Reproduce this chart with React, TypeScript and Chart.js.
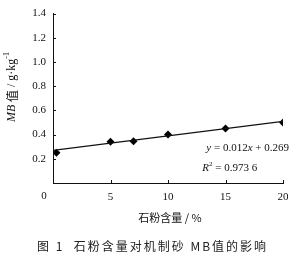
import React, { useEffect, useRef } from "react";
import { Chart, registerables } from "chart.js";

Chart.register(...registerables);

const stoneContent = [0.3, 5, 7, 10, 15, 20];
const mbValues = [0.25, 0.34, 0.345, 0.4, 0.45, 0.5];
const fitSlope = 0.012;
const fitIntercept = 0.269;
const fitRange = [0, 20];
const yTicks = [0.2, 0.4, 0.6, 0.8, 1.0, 1.2, 1.4];
const xTicks = [0, 5, 10, 15, 20];

const SERIF = '"Liberation Serif", "DejaVu Serif", serif';
const CJK = '"Noto Sans CJK SC", sans-serif';

const decorPlugin = {
  id: "decor",
  afterDraw(chart: any) {
    const ctx = chart.ctx as CanvasRenderingContext2D;
    const xs = chart.scales.x;
    const ys = chart.scales.y;
    const area = chart.chartArea;
    ctx.save();
    ctx.strokeStyle = "#111";
    ctx.lineWidth = 1;
    // inward tick marks
    ctx.beginPath();
    yTicks.forEach((v) => {
      const py = Math.round(ys.getPixelForValue(v)) + 0.5;
      ctx.moveTo(area.left, py);
      ctx.lineTo(area.left + 3, py);
    });
    xTicks.slice(1).forEach((v) => {
      const px = Math.round(xs.getPixelForValue(v)) + 0.5;
      ctx.moveTo(px, area.bottom);
      ctx.lineTo(px, area.bottom - 3);
    });
    ctx.stroke();

    ctx.fillStyle = "#111";
    ctx.textBaseline = "middle";

    // origin label, offset left as in the reference
    ctx.font = "11px " + SERIF;
    ctx.textAlign = "center";
    ctx.fillText(String(xTicks[0]), xs.getPixelForValue(xTicks[0]) - 9, area.bottom + 13);

    // y axis title (rotated)
    ctx.save();
    ctx.translate(12, 87);
    ctx.rotate(-Math.PI / 2);
    const segs: [string, string, number][] = [
      ["MB", "italic 12px " + SERIF, 0],
      [" 值", "12px " + CJK, 0],
      [" / g·kg", "12px " + SERIF, 0],
      ["-1", "8px " + SERIF, -5],
    ];
    let total = 0;
    segs.forEach(([t, f]) => {
      ctx.font = f;
      total += ctx.measureText(t).width;
    });
    let cx = -total / 2;
    ctx.textAlign = "left";
    segs.forEach(([t, f, dy]) => {
      ctx.font = f;
      ctx.fillText(t, cx, dy);
      cx += ctx.measureText(t).width;
    });
    ctx.restore();

    // x axis title
    ctx.textAlign = "center";
    ctx.font = "11px " + CJK;
    const midX = (area.left + area.right) / 2 + 2;
    ctx.fillText("石粉含量 / %", midX, area.bottom + 35);

    // equation
    const eqRight = xs.getPixelForValue(20) + 6;
    const eqY = ys.getPixelForValue(0.29);
    const eqSegs: [string, string][] = [
      ["y", "italic 11px " + SERIF],
      [" = 0.012", "11px " + SERIF],
      ["x", "italic 11px " + SERIF],
      [" + 0.269", "11px " + SERIF],
    ];
    let w = 0;
    eqSegs.forEach(([t, f]) => {
      ctx.font = f;
      w += ctx.measureText(t).width;
    });
    let ex = eqRight - w;
    ctx.textAlign = "left";
    eqSegs.forEach(([t, f]) => {
      ctx.font = f;
      ctx.fillText(t, ex, eqY);
      ex += ctx.measureText(t).width;
    });
    // R^2
    const rY = ys.getPixelForValue(0.125);
    let rx = eqRight - w - 4;
    ctx.font = "italic 11px " + SERIF;
    ctx.fillText("R", rx, rY);
    rx += ctx.measureText("R").width;
    ctx.font = "7px " + SERIF;
    ctx.fillText("2", rx, rY - 4);
    rx += ctx.measureText("2").width;
    ctx.font = "11px " + SERIF;
    ctx.fillText(" = 0.973 6", rx, rY);

    // caption
    ctx.font = "12px " + CJK;
    (ctx as any).letterSpacing = "2px";
    ctx.textAlign = "left";
    ctx.fillStyle = "#222";
    ctx.fillText("图 1  石粉含量对机制砂 MB值的影响", 37, 246);
    ctx.restore();
  },
};

export default function App() {
  const ref = useRef<HTMLCanvasElement>(null);
  useEffect(() => {
    document.body.style.margin = "0";
    const points = stoneContent.map((x, i) => ({ x, y: mbValues[i] }));
    const fit = fitRange.map((x) => ({ x, y: fitSlope * x + fitIntercept }));
    const chart = new Chart(ref.current!, {
      type: "line",
      data: {
        datasets: [
          {
            data: fit,
            borderColor: "#111",
            borderWidth: 1.2,
            pointRadius: 0,
            showLine: true,
          },
          {
            data: points,
            showLine: false,
            pointStyle: "rectRot",
            pointRadius: 4,
            backgroundColor: "#000",
            borderColor: "#000",
            borderWidth: 0,
          },
        ],
      },
      options: {
        animation: false,
        responsive: false,
        layout: { padding: { left: 0, right: 21, top: 12, bottom: 36 } },
        plugins: { legend: { display: false }, tooltip: { enabled: false } },
        scales: {
          x: {
            type: "linear",
            min: 0,
            max: 20,
            afterBuildTicks: (s: any) => {
              s.ticks = xTicks.map((v) => ({ value: v }));
            },
            afterFit: (s: any) => {
              s.height = 50;
            },
            grid: { drawOnChartArea: false, drawTicks: false },
            border: { color: "#111", width: 1 },
            ticks: {
              padding: 8,
              color: "#111",
              font: { family: SERIF, size: 11 },
              callback: (v: any) => (v === xTicks[0] ? "" : String(v)),
            },
          },
          y: {
            min: 0,
            max: 1.4,
            afterBuildTicks: (s: any) => {
              s.ticks = yTicks.map((v) => ({ value: v }));
            },
            afterFit: (s: any) => {
              s.width = 53;
            },
            grid: { drawOnChartArea: false, drawTicks: false },
            border: { color: "#111", width: 1 },
            ticks: {
              padding: 7,
              color: "#111",
              font: { family: SERIF, size: 11 },
              callback: (v: any) => Number(v).toFixed(1),
            },
          },
        },
      },
      plugins: [decorPlugin],
    });
    return () => chart.destroy();
  }, []);
  return (
    <div style={{ width: 304, height: 269, background: "#fff" }}>
      <canvas ref={ref} width={304} height={269} style={{ display: "block" }} />
    </div>
  );
}
